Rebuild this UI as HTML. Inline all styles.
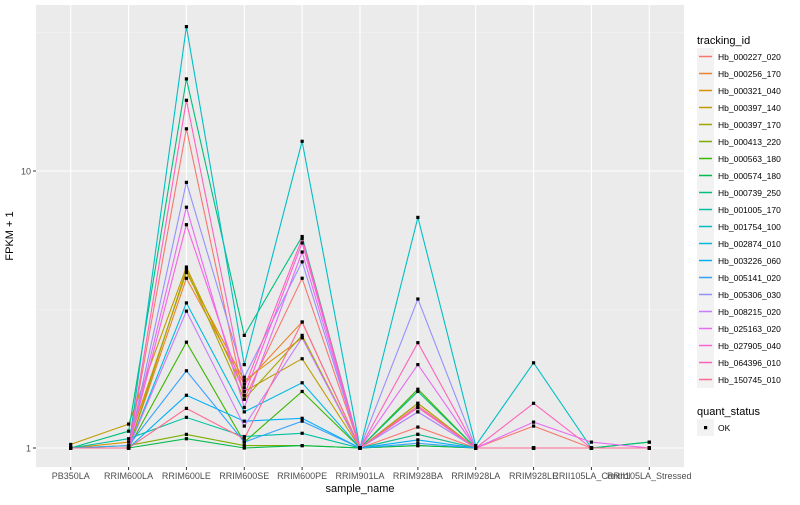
<!DOCTYPE html>
<html><head><meta charset="utf-8"><style>
body{margin:0;background:#fff;font-family:"Liberation Sans",sans-serif;}
svg text{font-family:"Liberation Sans",sans-serif;}
</style></head><body>
<svg id="chart" width="800" height="500" xmlns="http://www.w3.org/2000/svg">
<rect x="36" y="5" width="648" height="462" fill="#EBEBEB"/>
<g id="grid"></g><g id="lines"></g><g id="points"></g><g id="axes"></g><g id="legend"></g>
</svg>
<script>
const categories=["PB350LA","RRIM600LA","RRIM600LE","RRIM600SE","RRIM600PE","RRIM901LA","RRIM928BA","RRIM928LA","RRIM928LE","RRII105LA_Control","RRII105LA_Stressed"];
const seriesNames=["Hb_000227_020","Hb_000256_170","Hb_000321_040","Hb_000397_140","Hb_000397_170","Hb_000413_220","Hb_000563_180","Hb_000574_180","Hb_000739_250","Hb_001005_170","Hb_001754_100","Hb_002874_010","Hb_003226_060","Hb_005141_020","Hb_005306_030","Hb_008215_020","Hb_025163_020","Hb_027905_040","Hb_064396_010","Hb_150745_010"];
const colors=["#F8766D","#EA8331","#D89000","#C09B00","#A3A500","#7CAE00","#39B600","#00BB4E","#00BF7D","#00C1A3","#00BFC4","#00BAE0","#00B0F6","#35A2FF","#9590FF","#C77CFF","#E76BF3","#FA62DB","#FF62BC","#FF6C91"];
const values=[
[1.0,1.0,14.2,1.5,4.1,1.0,1.19,1.0,1.2,1.0,1.0],
[1.0,1.0,4.1,1.7,2.85,1.0,1.12,1.0,1.0,1.0,1.0],
[1.0,1.05,4.3,1.75,2.5,1.0,1.45,1.0,1.0,1.0,1.0],
[1.03,1.22,4.5,1.6,2.1,1.0,1.4,1.0,1.0,1.0,1.0],
[1.0,1.0,4.4,1.5,2.55,1.0,1.45,1.0,1.0,1.0,1.0],
[1.0,1.02,1.12,1.02,1.02,1.0,1.02,1.0,1.0,1.0,1.0],
[1.0,1.0,2.41,1.05,1.6,1.0,1.63,1.0,1.0,1.0,1.05],
[1.0,1.0,1.08,1.0,1.02,1.0,1.02,1.0,1.0,1.0,1.0],
[1.0,1.15,21.5,2.55,5.8,1.0,1.6,1.0,1.0,1.0,1.05],
[1.0,1.08,1.29,1.1,1.13,1.0,1.12,1.0,1.0,1.0,1.0],
[1.0,1.0,33.2,2.0,12.8,1.0,6.8,1.02,2.03,1.0,1.0],
[1.0,1.0,3.34,1.35,1.72,1.0,1.35,1.0,1.0,1.0,1.0],
[1.0,1.0,1.55,1.25,1.28,1.0,1.07,1.0,1.0,1.0,1.0],
[1.0,1.02,1.9,1.05,1.25,1.0,1.04,1.0,1.0,1.0,1.0],
[1.0,1.0,9.1,1.8,4.7,1.0,3.45,1.0,1.0,1.0,1.0],
[1.0,1.0,3.12,1.2,2.5,1.0,1.35,1.0,1.0,1.0,1.0],
[1.0,1.0,7.4,1.4,5.1,1.0,2.0,1.0,1.24,1.05,1.0],
[1.0,1.0,6.4,1.55,5.5,1.0,1.4,1.0,1.0,1.0,1.0],
[1.0,1.0,18.0,1.65,5.7,1.0,2.4,1.0,1.45,1.0,1.0],
[1.0,1.0,1.39,1.08,2.85,1.0,1.42,1.0,1.0,1.0,1.0]];
const yTicks=[1,10];
const yMinor=[Math.sqrt(10),Math.sqrt(1000)];
const NS="http://www.w3.org/2000/svg";
function mk(t,a,p){const e=document.createElementNS(NS,t);for(const k in a)e.setAttribute(k,a[k]);p.appendChild(e);return e;}
const L=36,R=684,T=5,B=467;
const step=(R-L)/(categories.length-1+1.2);
function xs(i){return L+step*(0.6+i);}
function ys(v){return 448-277*Math.log10(v);}
const grid=document.getElementById('grid'),lines=document.getElementById('lines'),pts=document.getElementById('points'),axes=document.getElementById('axes'),leg=document.getElementById('legend');
yMinor.forEach(v=>{const l=mk('line',{x1:L,x2:R,y1:ys(v),y2:ys(v),stroke:'#F5F5F5','stroke-width':0.6},grid);

});
yTicks.forEach(v=>{const l=mk('line',{x1:L,x2:R,y1:ys(v),y2:ys(v),stroke:'#fff','stroke-width':1.1},grid);


mk('line',{x1:L-3,x2:L,y1:ys(v),y2:ys(v),stroke:'#333'},axes);
const t=mk('text',{x:L-5,y:ys(v)+3.5,'text-anchor':'end','font-size':9,fill:'#4D4D4D'},axes);t.textContent=v;

});
categories.forEach((c,i)=>{const l=mk('line',{x1:xs(i),x2:xs(i),y1:T,y2:B,stroke:'#fff','stroke-width':1.1},grid);


mk('line',{x1:xs(i),x2:xs(i),y1:B,y2:B+3,stroke:'#333'},axes);
const t=mk('text',{x:xs(i),y:B+12,'text-anchor':'middle','font-size':9,fill:'#4D4D4D'},axes);t.textContent=c;

});
values.forEach((row,s)=>{const d=row.map((v,i)=>(i?'L':'M')+xs(i).toFixed(1)+' '+ys(v).toFixed(1)).join(' ');
const p=mk('path',{d:d,fill:'none',stroke:colors[s],'stroke-width':1.1},lines);


row.forEach((v,i)=>{const r=mk('rect',{x:xs(i)-1.6,y:ys(v)-1.6,width:3.2,height:3.2,fill:'#000'},pts);

});});
let t=mk('text',{x:13,y:236,'text-anchor':'middle','font-size':11,transform:'rotate(-90 13 236)'},axes);t.textContent='FPKM + 1';


t=mk('text',{x:(L+R)/2,y:492,'text-anchor':'middle','font-size':11},axes);t.textContent='sample_name';


t=mk('text',{x:697,y:44,'font-size':11},leg);t.textContent='tracking_id';


seriesNames.forEach((n,s)=>{const y=48+17*s;
const r=mk('rect',{x:697,y:y,width:17,height:17,fill:'#F2F2F2'},leg);


mk('line',{x1:699,x2:712,y1:y+8.5,y2:y+8.5,stroke:colors[s],'stroke-width':1.5},leg);
const tt=mk('text',{x:718,y:y+12,'font-size':8.5},leg);tt.textContent=n;

});
t=mk('text',{x:697,y:415,'font-size':11},leg);t.textContent='quant_status';


mk('rect',{x:697,y:419,width:17,height:17,fill:'#F2F2F2'},leg);
mk('rect',{x:704,y:426,width:3.2,height:3.2,fill:'#000'},leg);
t=mk('text',{x:718,y:431,'font-size':8.5},leg);t.textContent='OK';


</script>
</body></html>
